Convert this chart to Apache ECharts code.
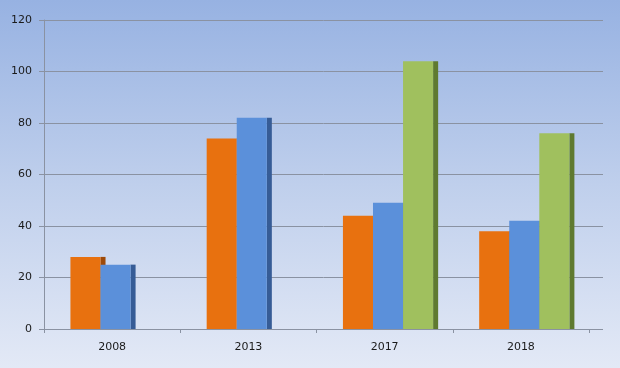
<!DOCTYPE html>
<html>
<head>
<meta charset="utf-8">
<script src="https://cdn.jsdelivr.net/npm/echarts@6/dist/echarts.min.js"></script>
<style>html,body{margin:0;padding:0;}#c{width:620px;height:368px;}</style>
</head>
<body>
<div id="c"></div>
<script>
const categories = ['2008', '2013', '2017', '2018'];
const seriesA = [28, 74, 44, 38];
const seriesB = [25, 82, 49, 42];
const seriesC = [null, null, 104, 76];
const yMin = 0, yMax = 120, yStep = 20;

const fronts = ['#e8710f', '#5b90da', '#a0c05e'];
const sides = ['#9e4a08', '#365c96', '#5f7a30'];

function toData(arr) {
  const out = [];
  arr.forEach((v, i) => { if (v !== null) out.push([i, v]); });
  return out;
}

function makeRender(idx) {
  return function (params, api) {
    const cat = api.value(0), v = api.value(1);
    const base = api.coord([cat, 0]);
    const top = api.coord([cat, v]);
    const band = api.size([1, 0])[0];
    const w = band * 0.2206;
    const sw = band * 0.037;
    const x0 = base[0] + band * (-0.306 + idx * 0.2206);
    const h = base[1] - top[1];
    return {
      type: 'group',
      children: [
        { type: 'rect', shape: { x: x0 + w, y: top[1], width: sw, height: h }, style: { fill: sides[idx] } },
        { type: 'rect', shape: { x: x0, y: top[1], width: w, height: h }, style: { fill: fronts[idx] } }
      ]
    };
  };
}

const chart = echarts.init(document.getElementById('c'), null, { renderer: 'canvas' });
const lineColor = '#8a92a2';
const font = { fontFamily: 'DejaVu Sans', fontSize: 11, color: '#1a1a1a' };
chart.setOption({
  animation: false,
  backgroundColor: {
    type: 'linear', x: 0, y: 0, x2: 0, y2: 1,
    colorStops: [
      { offset: 0, color: '#97b2e2' },
      { offset: 0.5, color: '#bfcfec' },
      { offset: 1, color: '#e3e9f6' }
    ]
  },
  grid: [
    { left: 44, right: 17, top: 20, bottom: 39 },
    { left: 44, right: 31, top: 20, bottom: 39 }
  ],
  xAxis: [
    { gridIndex: 0, type: 'value', show: false, min: 0, max: 1 },
    {
      gridIndex: 1, type: 'category', data: categories, boundaryGap: true,
      axisLine: { show: true, lineStyle: { color: lineColor, width: 1 } },
      axisTick: { show: true, length: 4, inside: false, lineStyle: { color: lineColor } },
      axisLabel: Object.assign({ margin: 13 }, font),
      splitLine: { show: false }
    }
  ],
  yAxis: [
    {
      gridIndex: 0, type: 'value', min: yMin, max: yMax, interval: yStep,
      axisLine: { show: true, lineStyle: { color: lineColor, width: 1 } },
      axisTick: { show: true, length: 5, lineStyle: { color: lineColor } },
      axisLabel: Object.assign({ margin: 12 }, font),
      splitLine: { show: true, lineStyle: { color: lineColor, width: 1 } }
    },
    { gridIndex: 1, type: 'value', min: yMin, max: yMax, interval: yStep, show: false, splitLine: { show: false } }
  ],
  series: [seriesA, seriesB, seriesC].map((arr, i) => ({
    type: 'custom',
    xAxisIndex: 1, yAxisIndex: 1,
    renderItem: makeRender(i),
    encode: { x: 0, y: 1 },
    data: toData(arr)
  }))
});
</script>
</body>
</html>
